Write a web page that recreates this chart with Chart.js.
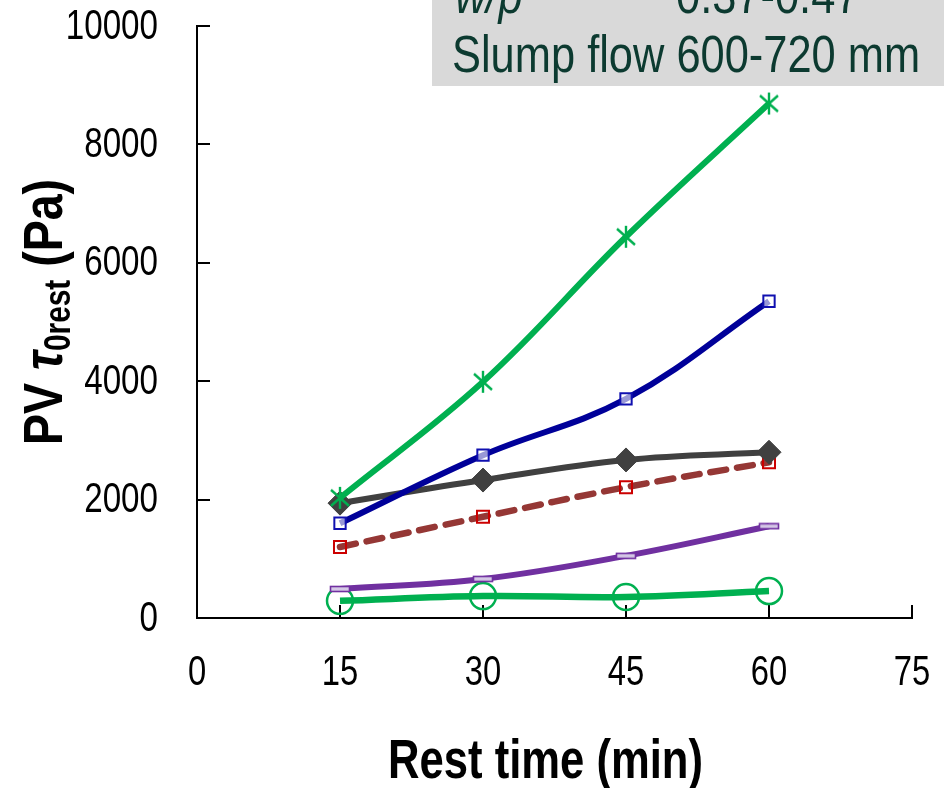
<!DOCTYPE html>
<html><head><meta charset="utf-8">
<script src="https://cdn.jsdelivr.net/npm/chart.js@4.4.0/dist/chart.umd.min.js"></script>
<style>html,body{margin:0;padding:0;background:#fff}</style>
</head><body>
<canvas id="c" width="944" height="788" style="width:944px;height:788px;display:block"></canvas>
<script>
// ---- data ----
const restTimes = [15, 30, 45, 60];
const xTickValues = [0, 15, 30, 45, 60, 75];
const yTickValues = [0, 2000, 4000, 6000, 8000, 10000];
const seriesAsterisk = [2030, 3990, 6440, 8690];
const seriesBlueSquare = [1600, 2750, 3700, 5350];
const seriesDiamond = [1940, 2330, 2670, 2800];
const seriesDashed = [1200, 1710, 2210, 2630];
const seriesPurple = [490, 660, 1050, 1550];
const seriesCircle = [290, 370, 355, 455];
const xTitle = 'Rest time (min)';
const yTitleParts = ['PV ', 'τ', '0rest', ' (Pa)'];
const infoLabel1 = 'w/p';
const infoValue1 = '0.37-0.47';
const infoLine2 = 'Slump flow 600-720 mm';

const FAMILY = "'Liberation Sans', Arial, sans-serif";

// draw horizontally condensed text (emulates Arial Narrow)
function narrowText(ctx, text, x, y, font, sx, align, baseline) {
  ctx.save();
  ctx.font = font;
  ctx.textAlign = align || 'left';
  ctx.textBaseline = baseline || 'alphabetic';
  ctx.translate(x, y);
  ctx.scale(sx, 1);
  ctx.fillText(text, 0, 0);
  ctx.restore();
}

// ---- custom markers ----
function makeAsterisk() {
  const c = document.createElement('canvas'); c.width = 24; c.height = 24;
  const g = c.getContext('2d');
  g.strokeStyle = '#00b050'; g.lineWidth = 2.4;
  g.beginPath();
  g.moveTo(12, 1); g.lineTo(12, 23);
  g.moveTo(3, 4); g.lineTo(21, 20);
  g.moveTo(21, 4); g.lineTo(3, 20);
  g.stroke();
  return c;
}
function makeDash() {
  const c = document.createElement('canvas'); c.width = 22; c.height = 8;
  const g = c.getContext('2d');
  g.fillStyle = '#d5c8e6'; g.fillRect(1, 1, 20, 6);
  g.strokeStyle = '#7030a0'; g.lineWidth = 1.6; g.strokeRect(1.5, 1.5, 19, 5);
  return c;
}

const pts = arr => restTimes.map((t, i) => ({x: t, y: arr[i]}));

const datasets = [
  {data: pts(seriesAsterisk), borderColor: '#00b050', borderWidth: 6, pointStyle: makeAsterisk(), pointRadius: 12},
  {data: pts(seriesBlueSquare), borderColor: '#000099', borderWidth: 6, pointStyle: 'rect', pointRadius: 8, pointBorderWidth: 2, pointBorderColor: '#1010b0', pointBackgroundColor: 'rgba(255,255,255,0.6)'},
  {data: pts(seriesDiamond), borderColor: '#404040', borderWidth: 6, pointStyle: 'rectRot', pointRadius: 12, pointBorderWidth: 1, pointBorderColor: '#404040', pointBackgroundColor: '#404040'},
  {data: pts(seriesDashed), borderColor: '#953735', borderWidth: 6.5, borderDash: [16, 11], borderCapStyle: 'round', pointStyle: 'rect', pointRadius: 8.5, pointBorderWidth: 2, pointBorderColor: '#cc0000', pointBackgroundColor: 'rgba(255,255,255,0)'},
  {data: pts(seriesPurple), borderColor: '#7030a0', borderWidth: 6, pointStyle: makeDash(), pointRadius: 10},
  {data: pts(seriesCircle), borderColor: '#00b050', borderWidth: 6.5, pointStyle: 'circle', pointRadius: 13, pointBorderWidth: 2.5, pointBorderColor: '#00b050', pointBackgroundColor: 'rgba(255,255,255,0)'}
].map(d => Object.assign({tension: 0.38, fill: false, backgroundColor: d.borderColor}, d));

const decor = {
  id: 'decor',
  beforeDatasetsDraw(chart) {
    const {ctx, chartArea: a, scales: {x, y}} = chart;
    ctx.save();
    ctx.strokeStyle = '#000'; ctx.lineWidth = 2;
    ctx.beginPath();
    yTickValues.forEach(v => { const py = Math.round(y.getPixelForValue(v)); if (v !== 0) { ctx.moveTo(a.left, py); ctx.lineTo(a.left + 13, py); } });
    xTickValues.forEach(v => { const px = Math.round(x.getPixelForValue(v)); if (v !== 0) { ctx.moveTo(px, a.bottom); ctx.lineTo(px, a.bottom - 13); } });
    ctx.stroke();
    ctx.restore();
    // tick labels
    ctx.save();
    ctx.fillStyle = '#000';
    const tf = '42px ' + FAMILY;
    yTickValues.forEach(v => narrowText(ctx, String(v), a.left - 39, y.getPixelForValue(v) + 1, tf, 0.79, 'right', 'middle'));
    xTickValues.forEach(v => narrowText(ctx, String(v), x.getPixelForValue(v), 685, tf, 0.78, 'center', 'alphabetic'));
    ctx.restore();
  },
  afterDraw(chart) {
    const {ctx} = chart;
    ctx.save();
    // info box
    ctx.fillStyle = '#d9d9d9';
    ctx.fillRect(432, 0, 512, 86);
    ctx.fillStyle = '#0c3a30';
    narrowText(ctx, infoLabel1, 455, 13, 'italic 52px ' + FAMILY, 0.835);
    narrowText(ctx, infoValue1, 676, 13, '52px ' + FAMILY, 0.835);
    narrowText(ctx, infoLine2, 452, 72, '52px ' + FAMILY, 0.835);
    // x title
    ctx.fillStyle = '#000';
    narrowText(ctx, xTitle, 545.5, 778, 'bold 55px ' + FAMILY, 0.793, 'center');
    // y title (rotated, with subscript)
    ctx.translate(62, 312);
    ctx.rotate(-Math.PI / 2);
    const sx = 0.83;
    const fMain = 'bold 56px ' + FAMILY;
    const fTau = 'bold italic 56px ' + FAMILY;
    const fSub = 'bold 36px ' + FAMILY;
    const fonts = [fMain, fTau, fSub, fMain];
    const widths = yTitleParts.map((t, i) => { ctx.font = fonts[i]; return ctx.measureText(t).width * sx; });
    const total = widths.reduce((s, w) => s + w, 0);
    let cx = -total / 2;
    yTitleParts.forEach((t, i) => {
      narrowText(ctx, t, cx, i === 2 ? 8 : 0, fonts[i], sx, 'left');
      cx += widths[i];
    });
    ctx.restore();
  }
};

new Chart(document.getElementById('c'), {
  type: 'line',
  data: {datasets},
  options: {
    responsive: false,
    animation: false,
    layout: {padding: {top: 26, right: 32, left: 0, bottom: 0}},
    plugins: {legend: {display: false}, tooltip: {enabled: false}, title: {display: false}},
    scales: {
      x: {
        type: 'linear', min: 0, max: 75,
        afterFit(s) { s.height = 170; },
        afterBuildTicks(s) { s.ticks = xTickValues.map(v => ({value: v})); },
        grid: {display: true, drawOnChartArea: false, drawTicks: false},
        border: {display: true, color: '#000', width: 2},
        ticks: {display: false}
      },
      y: {
        type: 'linear', min: 0, max: 10000,
        afterFit(s) { s.width = 197; },
        afterBuildTicks(s) { s.ticks = yTickValues.map(v => ({value: v})); },
        grid: {display: true, drawOnChartArea: false, drawTicks: false},
        border: {display: true, color: '#000', width: 2},
        ticks: {display: false}
      }
    }
  },
  plugins: [decor]
});
</script>
</body></html>
